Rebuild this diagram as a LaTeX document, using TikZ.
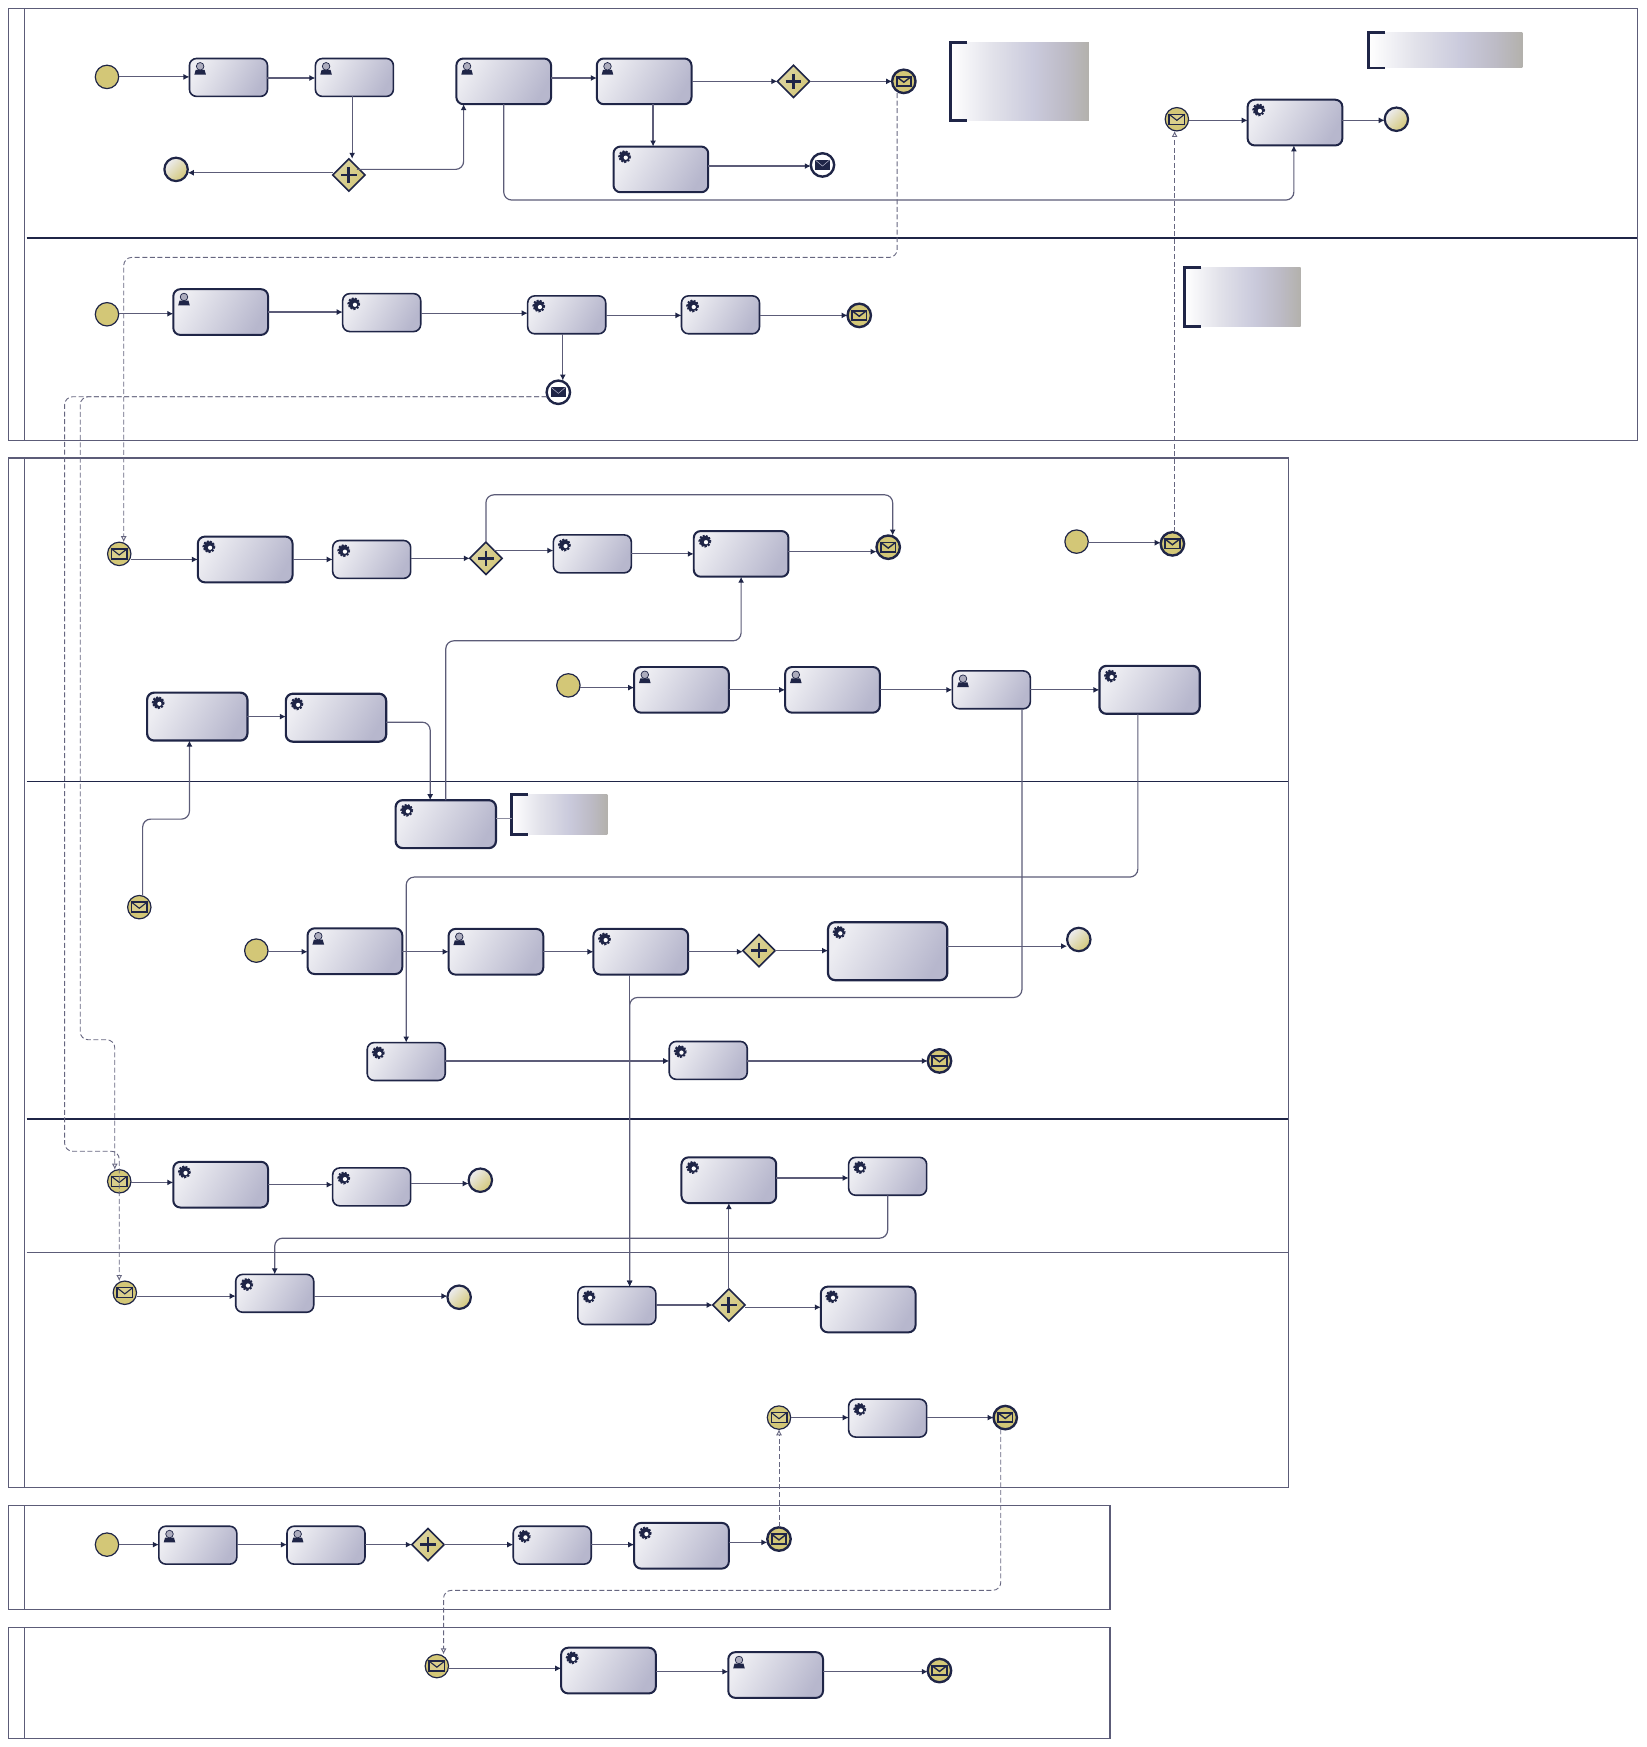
\documentclass[tikz,border=0pt]{standalone}
\usepackage{xcolor}
\usetikzlibrary{shapes.geometric,arrows.meta,calc}
\definecolor{navy}{HTML}{1F2547}
\definecolor{wire}{HTML}{5C5C78}
\definecolor{msgwire}{HTML}{666680}
\definecolor{gold}{HTML}{D3C777}
\definecolor{taskl}{HTML}{EDEDF2}
\definecolor{taskd}{HTML}{B7B7CD}
\definecolor{annota}{HTML}{E2E2EA}
\definecolor{annotb}{HTML}{CACADC}
\definecolor{annotc}{HTML}{BDBBC6}
\definecolor{annotd}{HTML}{B3B1AC}
\pgfdeclarehorizontalshading{annotshade}{100bp}{color(0bp)=(white);color(25bp)=(white);color(40bp)=(annota);color(55bp)=(annotb);color(66bp)=(annotc);color(75bp)=(annotd);color(100bp)=(annotd)}
\tikzset{
    sized/.style 2 args={minimum width=#1*0.558pt,minimum height=#2*0.558pt,inner sep=0pt,outer sep=0pt},
    task/.style={draw=navy,rounded corners=3.5pt,left color=taskl,right color=taskd,shading angle=60},
    taskA/.style={task,sized={70}{34},line width=.8pt},
    taskB/.style={task,sized={85}{41},line width=1pt},
    taskC/.style={task,sized={90}{43},line width=1.1pt},
    taskD/.style={task,sized={107}{52},line width=1.1pt},
    event/.style={circle,draw=navy,sized={21}{21}},
    startev/.style={event,line width=.6pt,fill=gold},
    endev/.style={event,line width=1.1pt,left color=taskl,right color=gold,shading angle=45},
    throwev/.style={event,line width=1.2pt,fill=gold},
    darkev/.style={event,line width=1.2pt,fill=white},
    gate/.style={diamond,draw=navy,line width=.8pt,left color=taskl!35!gold,right color=gold,shading angle=60,sized={29}{29},aspect=1},
    annot/.style={shade,shading=annotshade},
    bracket/.style={draw=navy,line width=1.4pt},
    pool/.style={draw=wire,line width=.55pt},
    lanediv/.style={draw=navy,line width=.65pt},
    flow/.style={draw=wire,line width=.6pt,-{Latex[length=3pt,width=3pt,color=navy]}},
    corner/.style={flow,rounded corners=4pt},
    msgflow/.style={draw=msgwire,line width=.45pt,dash pattern=on 2.5pt off 1.3pt,rounded corners=4pt,-{Latex[open,length=3pt,width=3pt]}},
    assoc/.style={draw=wire!70,line width=.4pt},
    usericon/.pic={
        \fill[navy] (-5.2,5.5) -- (-4,1.2) -- (4,1.2) -- (5.2,5.5) -- cycle;
        \draw[navy,fill=taskd!80!gray,line width=.35pt] (0,-2) circle (3.4);
    },
    gearicon/.pic={
        \draw[navy,line width=1.1pt,dash pattern=on 1pt off .6pt] (0,0) circle (4.8);
        \fill[navy] (0,0) circle (4.8);
        \fill[white] (1,1) circle (1.9);
    },
    plusicon/.pic={
        \draw[navy,line width=1.4pt] (-7,0) -- (7,0) (0,-7) -- (0,7);
    },
    catchicon/.pic={
        \draw[navy,line width=.7pt,fill=gold!85!white] (-7,-4.5) rectangle (7,4.5);
        \draw[navy,line width=.55pt] (-7,-4.5) -- (0,1) -- (7,-4.5);
    },
    throwicon/.pic={
        \draw[navy,line width=.95pt,fill=gold] (-6.5,-4.2) rectangle (6.5,4.2);
        \draw[navy,line width=.7pt] (-6.5,-4.2) -- (0,.8) -- (6.5,-4.2);
    },
    darkicon/.pic={
        \fill[navy] (-6.5,-4.5) rectangle (6.5,4.5);
        \draw[taskd,line width=.25pt] (-6.5,-4.5) -- (0,1) -- (6.5,-4.5);
    },
}
\begin{document}
\begin{tikzpicture}[x=0.558pt,y=-0.558pt]
    \useasboundingbox (0,0) rectangle (1477,1567.6);
    \foreach \xa/\ya/\xb/\yb in {8/8/1469/395,8/411/1156/1335,8/1351/996/1444,8/1460/996/1560}{
        \draw[pool] (\xa,\ya) rectangle (\xb,\yb);
        \draw[pool] (22,\ya) -- (22,\yb);
    }
    \draw[lanediv] (24,213.5) -- (1469,213.5);
    \draw[lanediv] (24,701) -- (1156,701);
    \draw[lanediv] (24,1004) -- (1156,1004);
    \draw[pool] (24,1124) -- (1156,1124);

    \foreach \n/\x/\y in {t1/205/69.5,t2/318/69.5,t8/342.5/280.5,t9/508.5/282.5,t10/646.5/282.5,t12/333.5/502,
        t13/531.5/497,t17/889.5/619,t26/364.5/952.5,t27/635.5/951.5,t29/333.5/1065,t31/796.5/1055.5,
        t32/246.5/1160.5,t33/553.5/1171.5,t35/796.5/1272.5,t36/177.5/1386.5,t37/292.5/1386.5,t38/495.5/1386.5}
        \node[taskA] (\n) at (\x,\y) {};
    \foreach \n/\x/\y in {t3/452/73,t4/578/73,t5/593/152,t6/1162/110,t7/198/280,t11/220/502,t14/665/497,
        t15/611.5/619,t16/747/619,t22/318.5/853.5,t23/445/854,t24/575/854,t28/198/1063,t30/654/1059,
        t34/779/1175,t39/611.5/1387,t40/546/1499,t41/696/1503}
        \node[taskB] (\n) at (\x,\y) {};
    \foreach \n/\x/\y in {t18/1031.5/619,t19/177/643,t20/301.5/644,t21/400/739.5}
        \node[taskC] (\n) at (\x,\y) {};
    \node[taskD] (t25) at (796.5,853.5) {};

    \foreach \n in {t1,t2,t3,t4,t7,t15,t16,t17,t22,t23,t36,t37,t41}
        \pic at ($(\n.north west)+(9.6,9)$) {usericon};
    \foreach \n in {t5,t6,t8,t9,t10,t11,t12,t13,t14,t18,t19,t20,t21,t24,t25,t26,t27,t28,t29,t30,t31,t32,t33,t34,t35,t38,t39,t40}
        \pic at ($(\n.north west)+(10,9)$) {gearicon};

    \foreach \n/\x/\y in {s1/96/69,s2/96/282,s3/966/486,s4/510/615,s5/230/853,s6/96/1386}
        \node[startev] (\n) at (\x,\y) {};
    \foreach \n/\x/\y in {e3/158/152,e4/1253/107,e9/968/843,e11/431/1059,e12/412/1164}
        \node[endev] (\n) at (\x,\y) {};
    \foreach \n/\x/\y in {m1/1056/107,m2/107/497,m3/125/814,m4/107/1060,m5/112/1160,m6/699/1272,m7/392/1495}{
        \node[startev] (\n) at (\x,\y) {};
        \pic at (\n) {catchicon};
    }
    \foreach \n/\x/\y in {e1/811/73,e5/771/283,e7/797/491,e8/1052/488,e10/843/952,e13/902/1272,e14/699/1381,e15/843/1499}{
        \node[throwev] (\n) at (\x,\y) {};
        \pic at (\n) {throwicon};
    }
    \foreach \n/\x/\y in {e2/738/148,e6/501/352}{
        \node[darkev] (\n) at (\x,\y) {};
        \pic at (\n) {darkicon};
    }
    \foreach \n/\x/\y in {g1/712/73,g2/313/157,g3/436/501,g4/681/853,g5/654/1171,g6/384/1386}{
        \node[gate] (\n) at (\x,\y) {};
        \pic at (\n) {plusicon};
    }

    \foreach \n/\x/\y/\w/\h in {a1/915/73/124/70,a2/1297/45/138/32,a3/1115/266.5/104/53,a4/502/731/86/36}{
        \node[annot,sized={\w}{\h}] (\n) at (\x,\y) {};
        \draw[bracket] ($(\n.north west)+(15,0)$) -- (\n.north west) -- (\n.south west) -- ($(\n.south west)+(15,0)$);
    }

    \foreach \a/\b/\y in {s1/t1/69,t1/t2/70,t3/t4/70,t4/g1/73,g1/e1/73,t5/e2/149,m1/t6/108,t6/e4/108,
        s2/t7/281.5,t7/t8/280,t8/t9/281,t9/t10/283,t10/e5/283,m2/t11/502,t11/t12/502,t12/g3/501,
        t13/t14/497,t14/e7/495,s3/e8/487,s4/t15/617,t15/t16/619,t16/t17/619,t17/t18/619,t19/t20/643,
        s5/t22/854,t22/t23/854,t23/t24/854,t24/g4/854,g4/t25/853,t25/e9/849,t26/t27/952,t27/e10/952,
        m4/t28/1061,t28/t29/1063,t29/e11/1062,t30/t31/1057,m5/t32/1163,t32/e12/1163,t33/g5/1171,
        g5/t34/1173,m6/t35/1272,t35/e13/1272,s6/t36/1386,t36/t37/1386,t37/g6/1386,g6/t38/1386,
        t38/t39/1386,t39/e14/1384,m7/t40/1497,t40/t41/1500,t41/e15/1500}
        \draw[flow] (\a.east |- 0,\y) -- (\b.west |- 0,\y);
    \draw[flow] (g3.north east |- 0,494) -- (t13.west |- 0,494);
    \draw[flow] (g2.west |- 0,155) -- (e3.east |- 0,155);
    \draw[flow] (t2.south -| 316,0) -- (g2.north -| 316,0);
    \draw[flow] (t4.south -| 586,0) -- (t5.north -| 586,0);
    \draw[flow] (t9.south -| 505,0) -- (e6.north -| 505,0);
    \draw[flow] (g5.north) -- (t30.south);
    \draw[flow] (t24.south -| 565,0) -- (t33.north -| 565,0);

    \draw[corner] (g2.north east |- 0,152) -- (416,152) -- (t3.south -| 416,0);
    \draw[corner] (t3.south -| 452,0) -- (452,179.5) -- (1161,179.5) -- (t6.south -| 1161,0);
    \draw[corner] (g3.north) -- (436,444) -- (801,444) -- (e7.north -| 801,0);
    \draw[corner] (t20.east |- 0,648) -- (386,648) -- (t21.north -| 386,0);
    \draw[corner] (m3.north -| 128,0) -- (128,735) -- (170,735) -- (t19.south -| 170,0);
    \draw[corner] (t21.north) -- (400,575) -- (665,575) -- (t14.south);
    \draw[corner] (t18.south -| 1021,0) -- (1021,787) -- (364.5,787) -- (t26.north);
    \draw[corner] (t17.south -| 917,0) -- (917,895) -- (565,895) -- (t33.north -| 565,0);
    \draw[corner] (t31.south) -- (796.5,1111) -- (246.5,1111) -- (t32.north);
    \draw[assoc] (t21.east |- 0,734) -- (a4.west |- 0,734);

    \draw[msgflow] (e1.south -| 805,0) -- (805,231) -- (111,231) -- (m2.north -| 111,0);
    \draw[msgflow] (e8.north -| 1054,0) -- (m1.south -| 1054,0);
    \draw[msgflow] (e6.west |- 0,356) -- (72,356) -- (72,933) -- (103,933) -- (m4.north -| 103,0);
    \draw[msgflow] (e6.west |- 0,356) -- (58,356) -- (58,1033) -- (107,1033) -- (m5.north -| 107,0);
    \draw[msgflow] (e14.north) -- (m6.south);
    \draw[msgflow] (e13.south -| 898,0) -- (898,1427) -- (398,1427) -- (m7.north -| 398,0);
\end{tikzpicture}
\end{document}
